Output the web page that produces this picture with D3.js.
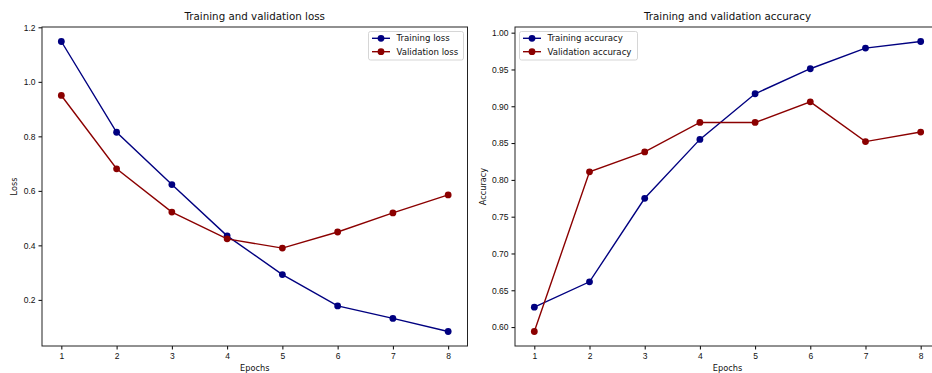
<!DOCTYPE html>
<html>
<head>
<meta charset="utf-8">
<script src="https://cdn.jsdelivr.net/npm/d3@7"></script>
<style>
  body { margin: 0; background: #fff; }
  svg { display: block; font-family: "DejaVu Sans", sans-serif; }
  .tick text { font-size: 8.5px; fill: #111; }
</style>
</head>
<body>
<div id="chart"></div>
<script>
// values
const epochs = [1, 2, 3, 4, 5, 6, 7, 8];
const trainLoss = [1.148, 0.815, 0.623, 0.435, 0.293, 0.178, 0.132, 0.084];
const valLoss = [0.950, 0.681, 0.522, 0.424, 0.390, 0.449, 0.519, 0.585];
const trainAcc = [0.627, 0.6615, 0.775, 0.855, 0.917, 0.951, 0.979, 0.988];
const valAcc = [0.594, 0.811, 0.838, 0.878, 0.878, 0.906, 0.852, 0.865];
const lossTicks = [0.2, 0.4, 0.6, 0.8, 1.0, 1.2];
const accTicks = [0.60, 0.65, 0.70, 0.75, 0.80, 0.85, 0.90, 0.95, 1.00];

const W = 932, H = 373;
const svg = d3.select("#chart").append("svg")
  .attr("width", W)
  .attr("height", H);

// matplotlib-ish 5% margins
function padded(vals) {
  const [lo, hi] = d3.extent(vals);
  const m = (hi - lo) * 0.05;
  return [lo - m, hi + m];
}

function drawPanel(opts) {
  const { left, right, top, bottom } = opts;
  const g = svg.append("g");

  const x = d3.scaleLinear().domain([0.65, 8.35]).range([left, right]);
  const y = d3.scaleLinear()
    .domain(padded(opts.series[0].values.concat(opts.series[1].values)))
    .range([bottom, top]);

  // x axis
  g.append("g")
    .attr("transform", "translate(0," + bottom + ")")
    .call(d3.axisBottom(x).tickValues(epochs).tickFormat(d3.format("d")).tickSize(3.5).tickPadding(3))
    .call(a => a.select(".domain").remove());

  // y axis
  g.append("g")
    .attr("transform", "translate(" + left + ",0)")
    .call(d3.axisLeft(y).tickValues(opts.ticks).tickFormat(d3.format(opts.fmt)).tickSize(3.5).tickPadding(3))
    .call(a => a.select(".domain").remove());

  // spines
  g.append("rect")
    .attr("x", left).attr("y", top)
    .attr("width", right - left).attr("height", bottom - top)
    .attr("fill", "none").attr("stroke", "#222").attr("stroke-width", 1);

  const line = d3.line()
    .x((d, i) => x(epochs[i]))
    .y(d => y(d));

  opts.series.forEach(s => {
    g.append("path")
      .datum(s.values)
      .attr("d", line)
      .attr("fill", "none")
      .attr("stroke", s.color)
      .attr("stroke-width", 1.4);
    g.selectAll(null)
      .data(s.values)
      .enter().append("circle")
      .attr("cx", (d, i) => x(epochs[i]))
      .attr("cy", d => y(d))
      .attr("r", 3.4)
      .attr("fill", s.color);
  });

  // title
  g.append("text")
    .attr("x", (left + right) / 2)
    .attr("y", top - 7)
    .attr("text-anchor", "middle")
    .attr("font-size", 10.3)
    .attr("fill", "#111")
    .text(opts.title);

  // axis labels
  g.append("text")
    .attr("x", (left + right) / 2)
    .attr("y", bottom + 25)
    .attr("text-anchor", "middle")
    .attr("font-size", 8.2)
    .attr("fill", "#111")
    .text("Epochs");
  g.append("text")
    .attr("transform", "translate(" + opts.ylabelX + "," + (top + bottom) / 2 + ") rotate(-90)")
    .attr("text-anchor", "middle")
    .attr("font-size", 8.2)
    .attr("fill", "#111")
    .text(opts.ylabel);

  // legend
  const lg = g.append("g").attr("transform", "translate(" + opts.legend.x + "," + opts.legend.y + ")");
  lg.append("rect")
    .attr("width", opts.legend.w).attr("height", 28.5)
    .attr("rx", 2)
    .attr("fill", "#fff").attr("stroke", "#ccc").attr("stroke-width", 0.8);
  opts.series.forEach((s, i) => {
    const yy = 6.8 + i * 13.4;
    lg.append("line")
      .attr("x1", 3.5).attr("x2", 21.5).attr("y1", yy).attr("y2", yy)
      .attr("stroke", s.color).attr("stroke-width", 1.4);
    lg.append("circle").attr("cx", 12.5).attr("cy", yy).attr("r", 3.4).attr("fill", s.color);
    lg.append("text")
      .attr("x", 28).attr("y", yy + 3)
      .attr("font-size", 8.6)
      .attr("fill", "#111")
      .text(s.name);
  });
}

drawPanel({
  left: 42, right: 467.5, top: 27, bottom: 346,
  title: "Training and validation loss",
  ylabel: "Loss", ylabelX: 17,
  ticks: lossTicks, fmt: ".1f",
  legend: { x: 368.5, y: 31.5, w: 95 },
  series: [
    { name: "Training loss", values: trainLoss, color: "#000080" },
    { name: "Validation loss", values: valLoss, color: "#8b0000" }
  ]
});

drawPanel({
  left: 515, right: 940, top: 27, bottom: 346,
  title: "Training and validation accuracy",
  ylabel: "Accuracy", ylabelX: 485.5,
  ticks: accTicks, fmt: ".2f",
  legend: { x: 519.5, y: 31.5, w: 118 },
  series: [
    { name: "Training accuracy", values: trainAcc, color: "#000080" },
    { name: "Validation accuracy", values: valAcc, color: "#8b0000" }
  ]
});
</script>
</body>
</html>
